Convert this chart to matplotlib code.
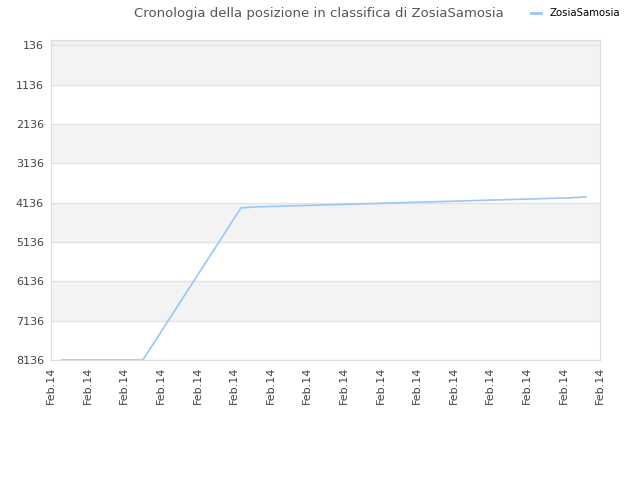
import numpy as np
import matplotlib
matplotlib.use("Agg")
import matplotlib.pyplot as plt

# positions along the time axis (in tick units) and ranking values
x_pos = [0.30, 2.51, 5.19, 5.63, 6.48, 7.35, 8.20, 9.04, 9.89, 10.77,
         11.61, 12.46, 13.33, 14.18, 14.62]
rank = [8136, 8136, 4268, 4243, 4220, 4197, 4174, 4151, 4128, 4105,
        4082, 4059, 4036, 4013, 3990]
y_ticks = [136, 1136, 2136, 3136, 4136, 5136, 6136, 7136, 8136]
x_labels = ["Feb.14"] * 16

fig = plt.figure(figsize=(6.4, 4.8), dpi=100)
ax = fig.add_axes([51 / 640, 1 - 360 / 480, 549 / 640, 320 / 480])

# alternating bands
ax.axhspan(0, 136, color="#f0f0f0", lw=0, zorder=0)
for i in range(len(y_ticks) - 1):
    if i % 2 == 0:
        ax.axhspan(y_ticks[i], y_ticks[i + 1], color="#f3f3f3", lw=0, zorder=0)
for v in y_ticks:
    ax.axhline(v, color="#e2e2e2", lw=1, zorder=1)

ax.plot(x_pos, rank, color="#99c7f7", lw=1.2, label="ZosiaSamosia", zorder=3)

ax.set_xlim(0, 15)
ax.set_ylim(8136, 0)
ax.set_yticks(y_ticks)
ax.set_yticklabels([str(v) for v in y_ticks])
ax.set_xticks(np.arange(16))
ax.set_xticklabels(x_labels, rotation=90)
ax.tick_params(length=0, labelsize=8, labelcolor="#444444", pad=5)

for s in ax.spines.values():
    s.set_color("#dddddd")

fig.text(0.4985, 0.972, "Cronologia della posizione in classifica di ZosiaSamosia",
         ha="center", va="center", fontsize=9.5, color="#555555")
leg = fig.legend(loc="center left", bbox_to_anchor=(0.822, 0.972), frameon=False,
                 fontsize=7.3, handlelength=1.0, handletextpad=0.85,
                 borderpad=0)
for line in leg.get_lines():
    line.set_linewidth(2)

fig.savefig("out.png", dpi=100)
